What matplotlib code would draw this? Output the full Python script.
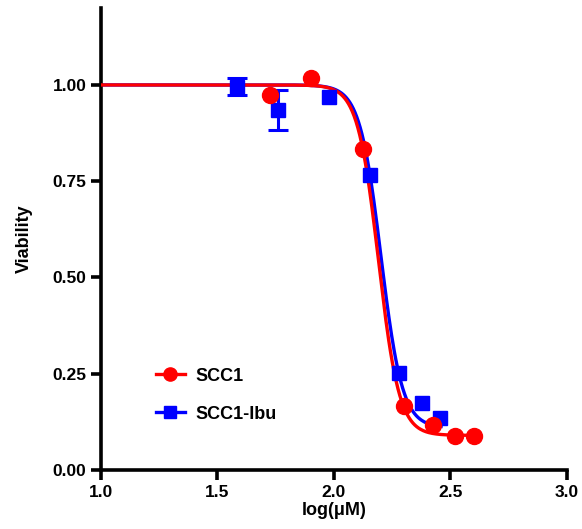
import numpy as np
import matplotlib
matplotlib.use("Agg")
import matplotlib.pyplot as plt

plt.rcParams['font.family'] = ['Liberation Sans', 'DejaVu Sans']
plt.rcParams['font.weight'] = 'bold'

# Data
scc1_x = [1.725, 1.901, 2.124, 2.30, 2.425, 2.52, 2.60]
scc1_y = [0.974, 1.018, 0.834, 0.165, 0.117, 0.088, 0.088]
scc1_err = [0.0, 0.0, 0.0, 0.0, 0.0, 0.0, 0.0]

ibu_x = [1.584, 1.76, 1.98, 2.155, 2.279, 2.378, 2.455]
ibu_y = [0.995, 0.936, 0.969, 0.767, 0.251, 0.173, 0.134]
ibu_err = [0.022, 0.052, 0.0, 0.0, 0.0, 0.0, 0.0]

# 4PL fit parameters (top, bottom, logIC50, hill)
scc1_fit = (1.0, 0.09, 2.191, 9.7)
ibu_fit = (1.0, 0.11, 2.202, 9.5)
scc1_range = (1.0, 2.60)
ibu_range = (1.0, 2.46)

def fourpl(x, p):
    t, b, c, h = p
    return b + (t - b) / (1 + 10 ** ((x - c) * h))

fig = plt.figure(figsize=(5.82, 5.29), dpi=100)
ax = fig.add_axes([0.1735, 0.1115, 0.8005, 0.8735])

xs = np.linspace(*ibu_range, 400)
ax.plot(xs, fourpl(xs, ibu_fit), color='#0000ff', lw=2.4, zorder=2)
xs = np.linspace(*scc1_range, 400)
ax.plot(xs, fourpl(xs, scc1_fit), color='#ff0000', lw=2.4, zorder=3)

def draw_err(xv, yv, ev, color, z):
    ex = [x for x, e in zip(xv, ev) if e > 0]
    ey = [y for y, e in zip(yv, ev) if e > 0]
    ee = [e for e in ev if e > 0]
    if ex:
        ax.errorbar(ex, ey, yerr=ee, fmt='none', ecolor=color, capsize=7,
                    elinewidth=2.2, capthick=2.2, zorder=z)

draw_err(ibu_x, ibu_y, ibu_err, '#0000ff', 4)
ax.plot(ibu_x, ibu_y, 's', color='#0000ff', ms=10, zorder=4)
draw_err(scc1_x, scc1_y, scc1_err, '#ff0000', 5)
ax.plot(scc1_x, scc1_y, 'o', color='#ff0000', ms=11.5, zorder=5)

# legend handles
h1, = ax.plot([], [], color='#ff0000', lw=2.4, marker='o', ms=9.5)
h2, = ax.plot([], [], color='#0000ff', lw=2.4, marker='s', ms=8.5)
leg = ax.legend([h1, h2], ['SCC1', 'SCC1-Ibu'], loc='center left',
                bbox_to_anchor=(0.083, 0.162), frameon=False, fontsize=13,
                handlelength=1.6, labelspacing=1.15, handletextpad=0.6)

ax.set_xlim(1.0, 3.0)
ax.set_ylim(0, 1.2)
ax.set_xticks([1.0, 1.5, 2.0, 2.5, 3.0])
ax.set_xticklabels(['1.0', '1.5', '2.0', '2.5', '3.0'])
ax.set_yticks([0, 0.25, 0.5, 0.75, 1.0])
ax.set_yticklabels(['0.00', '0.25', '0.50', '0.75', '1.00'])
ax.spines['top'].set_visible(False)
ax.spines['right'].set_visible(False)
for s in ['left', 'bottom']:
    ax.spines[s].set_linewidth(2.6)
ax.tick_params(width=2.6, length=7, labelsize=12.5, direction='out')
for lab in ax.get_xticklabels() + ax.get_yticklabels():
    lab.set_fontweight('bold')
ax.set_xlabel('log(μM)', fontsize=13, fontweight='bold', labelpad=2)
ax.set_ylabel('Viability', fontsize=13, fontweight='bold', labelpad=14)

fig.savefig('out.png', dpi=100)
